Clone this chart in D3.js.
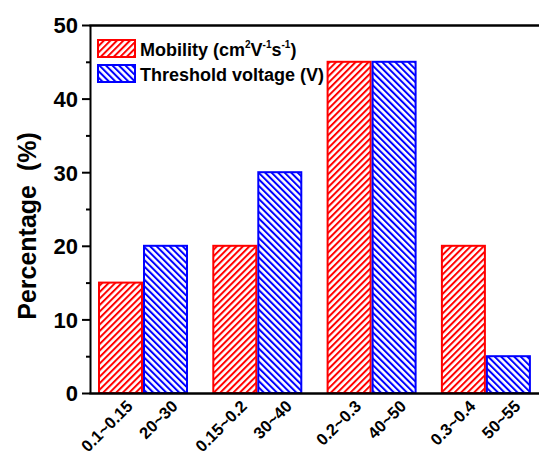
<!DOCTYPE html>
<html>
<head>
<meta charset="utf-8">
<script src="https://cdn.jsdelivr.net/npm/d3@7"></script>
<style>
  body { margin: 0; background: #fff; }
  svg { font-family: "Liberation Sans", Arial, sans-serif; font-weight: bold; }
</style>
</head>
<body>
<div id="chart"></div>
<script>
// bin labels and percentages
let groups = ["g1", "g2", "g3", "g4"];
let mobilityBins = ["0.1~0.15", "0.15~0.2", "0.2~0.3", "0.3~0.4"];
let thresholdBins = ["20~30", "30~40", "40~50", "50~55"];
let mobility = [15, 20, 45, 20];
let threshold = [20, 30, 45, 5];
let yTicks = [0, 10, 20, 30, 40, 50];
let yMinor = [5, 15, 25, 35, 45];

let svgWidth = 539, svgHeight = 455;
let margin = {top: 25, left: 90, bottom: 62};
let plotRight = 548;
let yBottom = svgHeight - margin.bottom;

let svg = d3.select("#chart")
    .append("svg")
    .attr("width", svgWidth)
    .attr("height", svgHeight);

let defs = svg.append("defs");
function hatch(id, color, angle) {
    let p = defs.append("pattern")
        .attr("id", id)
        .attr("patternUnits", "userSpaceOnUse")
        .attr("width", 4.6)
        .attr("height", 4.6)
        .attr("patternTransform", `rotate(${angle})`);
    p.append("rect").attr("width", 4.6).attr("height", 4.6).attr("fill", "#fff");
    p.append("line")
        .attr("x1", 1).attr("y1", -1).attr("x2", 1).attr("y2", 6)
        .attr("stroke", color).attr("stroke-width", 2);
}
hatch("hatchRed", "#ff0000", 45);
hatch("hatchBlue", "#0000ff", -45);

let x = d3.scaleBand()
    .domain(groups)
    .range([85.85, 85.85 + 4 * 114.3])
    .paddingInner(0.2126)
    .paddingOuter(0.1063);
let xSub = d3.scaleBand()
    .domain(["m", "t"])
    .range([0, x.bandwidth()]);
let y = d3.scaleLinear()
    .domain([0, 50])
    .range([yBottom, margin.top]);

let series = [
    {key: "m", values: mobility, bins: mobilityBins, fill: "url(#hatchRed)", stroke: "#ff0000"},
    {key: "t", values: threshold, bins: thresholdBins, fill: "url(#hatchBlue)", stroke: "#0000ff"}
];

series.forEach(s => {
    svg.append("g").selectAll("rect")
        .data(s.values)
        .enter()
        .append("rect")
        .attr("x", (d, i) => x(groups[i]) + xSub(s.key) + 1)
        .attr("y", d => y(d))
        .attr("width", xSub.bandwidth() - 2)
        .attr("height", d => y(0) - y(d))
        .attr("fill", s.fill)
        .attr("stroke", s.stroke)
        .attr("stroke-width", 2);

    svg.append("g").selectAll("text")
        .data(s.bins)
        .enter()
        .append("text")
        .attr("transform", (d, i) =>
            `translate(${x(groups[i]) + xSub(s.key) + xSub.bandwidth() / 2 + 5},${yBottom + 6}) rotate(-45)`)
        .attr("text-anchor", "end")
        .attr("dy", "0.7em")
        .style("font-size", "16.5px")
        .text(d => d);
});

// y axis with major and minor ticks
let yAxis = svg.append("g")
    .attr("transform", `translate(${margin.left},0)`)
    .call(d3.axisLeft(y).tickValues(yTicks).tickSize(8).tickSizeOuter(0).tickPadding(4));
yAxis.selectAll("text").style("font-size", "22px").attr("dy", "0.36em").attr("fill", "#000");
yAxis.selectAll("line").attr("stroke-width", 2);
yAxis.select(".domain").attr("stroke-width", 2);
svg.append("g")
    .attr("transform", `translate(${margin.left},0)`)
    .call(d3.axisLeft(y).tickValues(yMinor).tickSize(4).tickSizeOuter(0).tickFormat(""))
    .call(g => g.select(".domain").remove())
    .selectAll("line").attr("stroke-width", 2);

// top and bottom frame lines
svg.append("g")
    .attr("transform", `translate(0,${yBottom})`)
    .call(d3.axisBottom(d3.scaleLinear().range([margin.left - 1, plotRight])).ticks(0).tickSizeOuter(0))
    .select(".domain").attr("stroke-width", 2.5);
svg.append("g")
    .attr("transform", `translate(0,${margin.top})`)
    .call(d3.axisTop(d3.scaleLinear().range([margin.left - 1, plotRight])).ticks(0).tickSizeOuter(0))
    .select(".domain").attr("stroke-width", 2.5);

// y title
svg.append("text")
    .attr("transform", `translate(36,226) rotate(-90)`)
    .attr("text-anchor", "middle")
    .style("font-size", "25px")
    .attr("xml:space", "preserve")
    .text("Percentage  (%)");

// legend
let legend = svg.append("g");
let rows = [
    {fill: "url(#hatchRed)", stroke: "#ff0000", y: 40},
    {fill: "url(#hatchBlue)", stroke: "#0000ff", y: 65}
];
rows.forEach(r => {
    legend.append("rect")
        .attr("x", 98).attr("y", r.y)
        .attr("width", 37).attr("height", 17)
        .attr("fill", r.fill).attr("stroke", r.stroke).attr("stroke-width", 2);
});
let t1 = legend.append("text").attr("x", 140).attr("y", 56).style("font-size", "18px");
t1.append("tspan").text("Mobility (cm");
t1.append("tspan").attr("dy", -8).style("font-size", "10px").text("2");
t1.append("tspan").attr("dy", 8).text("V");
t1.append("tspan").attr("dy", -8).style("font-size", "10px").text("-1");
t1.append("tspan").attr("dy", 8).text("s");
t1.append("tspan").attr("dy", -8).style("font-size", "10px").text("-1");
t1.append("tspan").attr("dy", 8).text(")");
legend.append("text").attr("x", 140).attr("y", 81).style("font-size", "18px")
    .text("Threshold voltage (V)");
</script>
</body>
</html>
